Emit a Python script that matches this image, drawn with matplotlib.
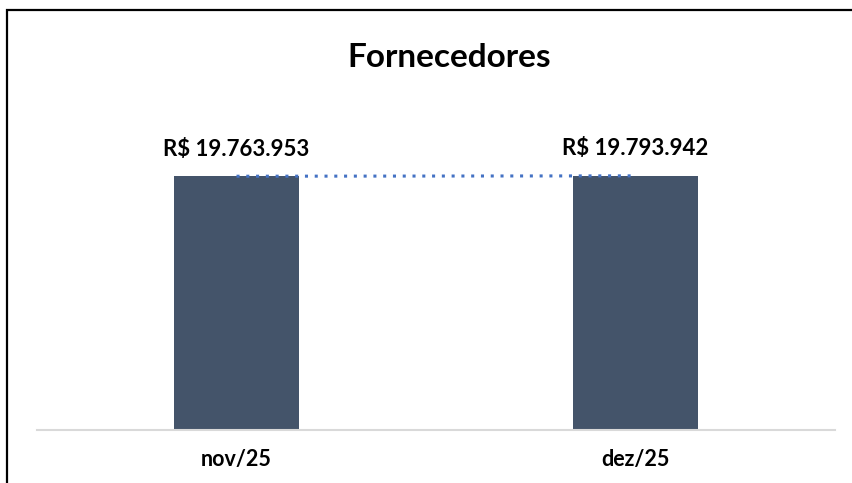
import matplotlib.pyplot as plt
from matplotlib.patches import Rectangle

categories = ["nov/25", "dez/25"]
values = [19763953, 19793942]
labels = ["R$ 19.763.953", "R$ 19.793.942"]

plt.rcParams['font.family'] = ['Lato', 'DejaVu Sans']

fig = plt.figure(figsize=(8.53, 4.83), dpi=100)
ax = fig.add_axes([37/853, 1 - 430/483, 798/853, 321/483])

x = list(range(len(categories)))
ax.bar(x, values, width=0.313, color="#44546A", zorder=2)
ax.plot(x, values, linestyle=(0, (1, 2.2)), color="#4472C4", linewidth=2.2, zorder=3)

for xi, v, lab in zip(x, values, labels):
    ax.annotate(lab, (xi, v), xytext=(0, 12), textcoords="offset points",
                ha="center", va="bottom", fontsize=16, fontweight="bold")

ax.set_xlim(-0.5, 1.5)
ax.set_ylim(0, 25000000)
ax.set_yticks([])
ax.set_xticks(x)
ax.set_xticklabels(categories, fontsize=15.5, fontweight="bold")
ax.tick_params(axis="x", length=0, pad=14)
for s in ["top", "right", "left"]:
    ax.spines[s].set_visible(False)
ax.spines["bottom"].set_color("#D9D9D9")
ax.spines["bottom"].set_linewidth(1.5)

fig.text(449/853, 1 - 67/483, "Fornecedores", ha="center", va="baseline",
         fontsize=24, fontweight="bold")

fig.patches.append(Rectangle((7/853, -0.2), 1.2, 1.2 - 10/483,
                             transform=fig.transFigure, fill=False,
                             edgecolor="black", linewidth=1.6))

fig.savefig("out.png", dpi=100)
